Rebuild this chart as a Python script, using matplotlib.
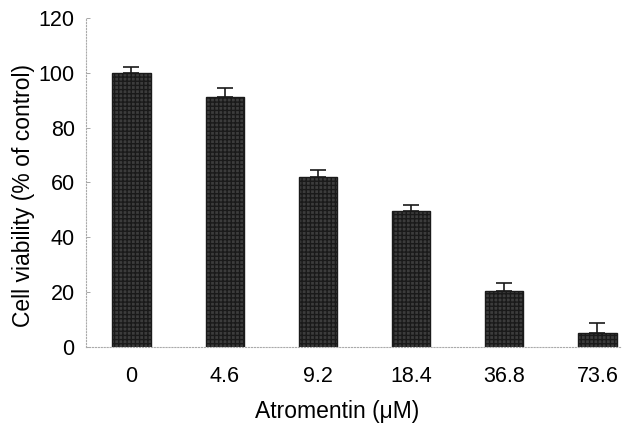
import matplotlib.pyplot as plt
import numpy as np

plt.rcParams['font.family'] = ['Liberation Sans', 'DejaVu Sans']
plt.rcParams['hatch.color'] = '#707070'

doses = ['0', '4.6', '9.2', '18.4', '36.8', '73.6']
viability = [100, 91, 62, 49.5, 20.4, 5.0]
sem = [2.2, 3.4, 2.4, 2.2, 2.9, 3.5]

fig = plt.figure(figsize=(6.22, 4.26), dpi=100)
ax = fig.add_axes([0.138, 0.186, 0.86, 0.772])

x = np.arange(len(doses))
ax.bar(x, viability, width=0.41, color='#3c3c3c', edgecolor='#1a1a1a', linewidth=1,
       hatch='++++', zorder=2)
ax.errorbar(x, viability, yerr=[np.zeros(len(sem)), sem], fmt='none',
            ecolor='#1a1a1a', elinewidth=1.2, capsize=6, capthick=1.2, zorder=1)

ax.set_xlim(-0.49, 5.25)
ax.set_ylim(0, 120)
ax.set_yticks(range(0, 121, 20))
ax.set_xticks(x)
ax.set_xticklabels(doses)
ax.tick_params(axis='y', direction='in', length=3, width=0.6, color='#999999',
               labelsize=15.5, pad=8)
ax.tick_params(axis='x', length=0, labelsize=15.5, pad=14)

for side in ['top', 'right']:
    ax.spines[side].set_visible(False)
for side in ['left', 'bottom']:
    ax.spines[side].set_linestyle(':')
    ax.spines[side].set_color('#aaaaaa')
    ax.spines[side].set_linewidth(0.8)

ax.set_xlabel('Atromentin (\u03bcM)', fontsize=16.5)
ax.set_ylabel('Cell viability (% of control)', fontsize=16.5)
ax.xaxis.set_label_coords(0.469, -0.198)
ax.yaxis.set_label_coords(-0.116, 0.46)
ax.xaxis.label.set_va('center')
ax.yaxis.label.set_va('center')

fig.savefig('out.png', dpi=100)
